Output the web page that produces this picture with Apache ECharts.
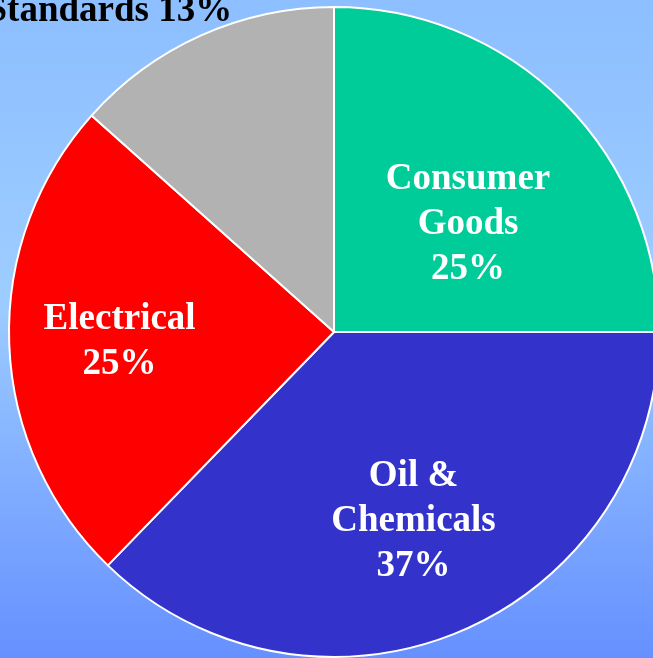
<!DOCTYPE html>
<html>
<head>
<meta charset="utf-8">
<style>
html,body{margin:0;padding:0;overflow:hidden;}
#c{width:653px;height:658px;}
</style>
<script src="https://cdn.jsdelivr.net/npm/echarts@6/dist/echarts.min.js"></script>
</head>
<body>
<div id="c"></div>
<script>
var categories = ['Consumer\nGoods', 'Oil &\nChemicals', 'Electrical', 'Standards'];
// slice sizes as measured from the slice angles in the picture
var values = [25, 37.25, 24.35, 13.4];
// percentage texts as printed in the picture
var percentLabels = ['25%', '37%', '25%', '13%'];
var colors = ['#00CC99', '#3333CC', '#FF0000', '#B2B2B2'];
var labelColors = ['#ffffff', '#ffffff', '#ffffff', '#000000'];
var labelOffsets = [[17, 9], [15, 37], [-49, 4], [-157, -170]];
var labelSeparators = ['\n', '\n', '\n', ' '];

var chart = echarts.init(document.getElementById('c'), null, {renderer: 'canvas'});
var data = categories.map(function (c, i) {
  return {
    name: c,
    value: values[i],
    itemStyle: {color: colors[i]},
    label: {color: labelColors[i], offset: labelOffsets[i]}
  };
});
chart.setOption({
  animation: false,
  backgroundColor: new echarts.graphic.LinearGradient(0, 0, 0, 1, [
    {offset: 0, color: '#8dbeff'},
    {offset: 0.45, color: '#9dcdff'},
    {offset: 1, color: '#6690ff'}
  ]),
  series: [{
    type: 'pie',
    center: [334, 332],
    radius: [0, 325],
    startAngle: 90,
    clockwise: true,
    avoidLabelOverlap: false,
    itemStyle: {borderColor: '#ffffff', borderWidth: 2},
    label: {
      show: true,
      position: 'inner',
      fontFamily: '"Liberation Serif", "Times New Roman", serif',
      fontWeight: 'bold',
      fontSize: 37,
      lineHeight: 45,
      align: 'center',
      formatter: function (p) {
        return p.name + labelSeparators[p.dataIndex] + percentLabels[p.dataIndex];
      }
    },
    labelLine: {show: false},
    emphasis: {disabled: true},
    data: data
  }]
});
</script>
</body>
</html>
